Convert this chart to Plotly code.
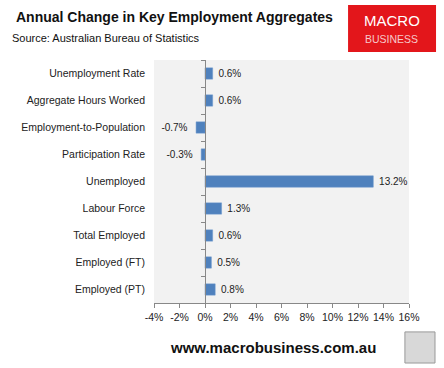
import plotly.graph_objects as go

categories = ["Unemployment Rate", "Aggregate Hours Worked", "Employment-to-Population",
              "Participation Rate", "Unemployed", "Labour Force", "Total Employed",
              "Employed (FT)", "Employed (PT)"]
values = [0.6, 0.6, -0.7, -0.3, 13.2, 1.3, 0.6, 0.5, 0.8]
x_ticks = [-4, -2, 0, 2, 4, 6, 8, 10, 12, 14, 16]
x_tick_labels = [f"{v}%" for v in x_ticks]

FONT = "Liberation Sans"
n = len(categories)
NB = "\u00a0"
bar_text = [(NB + f"{v:.1f}%") if v >= 0 else (f"{v:.1f}%" + NB * 2) for v in values]

fig = go.Figure()
fig.add_trace(go.Bar(
    y=categories, x=values, orientation="h",
    marker=dict(color="#4F81BD", line=dict(color="#6B96CC", width=0.5)),
    width=0.42,
    text=bar_text, textposition="outside",
    textfont=dict(family=FONT, size=10, color="#222222"),
    cliponaxis=False, hoverinfo="skip",
))
# helper axis trace (empty) to draw the vertical axis line at zero
fig.add_trace(go.Scatter(x=[], y=[], yaxis="y2", showlegend=False, hoverinfo="skip"))

fig.update_layout(
    width=444, height=368,
    margin=dict(l=154, r=35, t=60, b=65),
    paper_bgcolor="white", plot_bgcolor="#F2F2F2",
    showlegend=False, bargap=0.58,
    font=dict(family=FONT, size=11, color="#222222"),
    xaxis=dict(range=[-4, 16], tickvals=x_ticks, ticktext=x_tick_labels,
               showgrid=False, zeroline=False, showline=True, linecolor="#888888",
               ticks="outside", ticklen=4, tickcolor="#888888",
               tickfont=dict(size=10.5, family=FONT, color="#222222")),
    yaxis=dict(type="category", categoryorder="array", categoryarray=categories[::-1],
               range=[-0.5, n - 0.5], showgrid=False, showline=False, ticks="",
               ticklabelstandoff=8, tickfont=dict(size=10.5, family=FONT, color="#222222")),
    yaxis2=dict(overlaying="y", anchor="free", position=0.2, range=[-0.5, n - 0.5],
                tickvals=[i - 0.5 for i in range(n + 1)], showticklabels=False,
                ticks="outside", ticklen=4, tickcolor="#888888",
                showline=True, linecolor="#888888", showgrid=False, zeroline=False),
)

fig.add_annotation(text="<b>Annual Change in Key Employment Aggregates</b>", xref="paper", yref="paper",
                   x=-0.549, y=1.177, xanchor="left", yanchor="middle", showarrow=False,
                   font=dict(size=14, family=FONT, color="#111111"))
fig.add_annotation(text="Source: Australian Bureau of Statistics", xref="paper", yref="paper",
                   x=-0.565, y=1.09, xanchor="left", yanchor="middle", showarrow=False,
                   font=dict(size=11, family=FONT, color="#111111"))
# logo box
fig.add_shape(type="rect", xref="paper", yref="paper", x0=0.761, x1=1.106, y0=1.033, y1=1.226,
              fillcolor="#E3161B", line=dict(width=0), layer="below")
fig.add_annotation(text="MACRO", xref="paper", yref="paper", x=0.933, y=1.162,
                   xanchor="center", yanchor="middle", showarrow=False,
                   font=dict(size=15, family=FONT, color="white"))
fig.add_annotation(text="BUSINESS", xref="paper", yref="paper", x=0.933, y=1.088,
                   xanchor="center", yanchor="middle", showarrow=False,
                   font=dict(size=10.5, family=FONT, color="#F6C9C9"))
fig.add_annotation(text="<b>www.macrobusiness.com.au</b>", xref="paper", yref="paper",
                   x=0.467, y=-0.185, xanchor="center", yanchor="middle", showarrow=False,
                   font=dict(size=15, family=FONT, color="#111111"))
fig.add_shape(type="rect", xref="paper", yref="paper", x0=0.984, x1=1.102, y0=-0.247, y1=-0.119,
              fillcolor="#D8D8D8", line=dict(color="#999999", width=1))

fig.write_html("out.html", config={"displayModeBar": False},
               post_script="document.body.style.margin='0';")
